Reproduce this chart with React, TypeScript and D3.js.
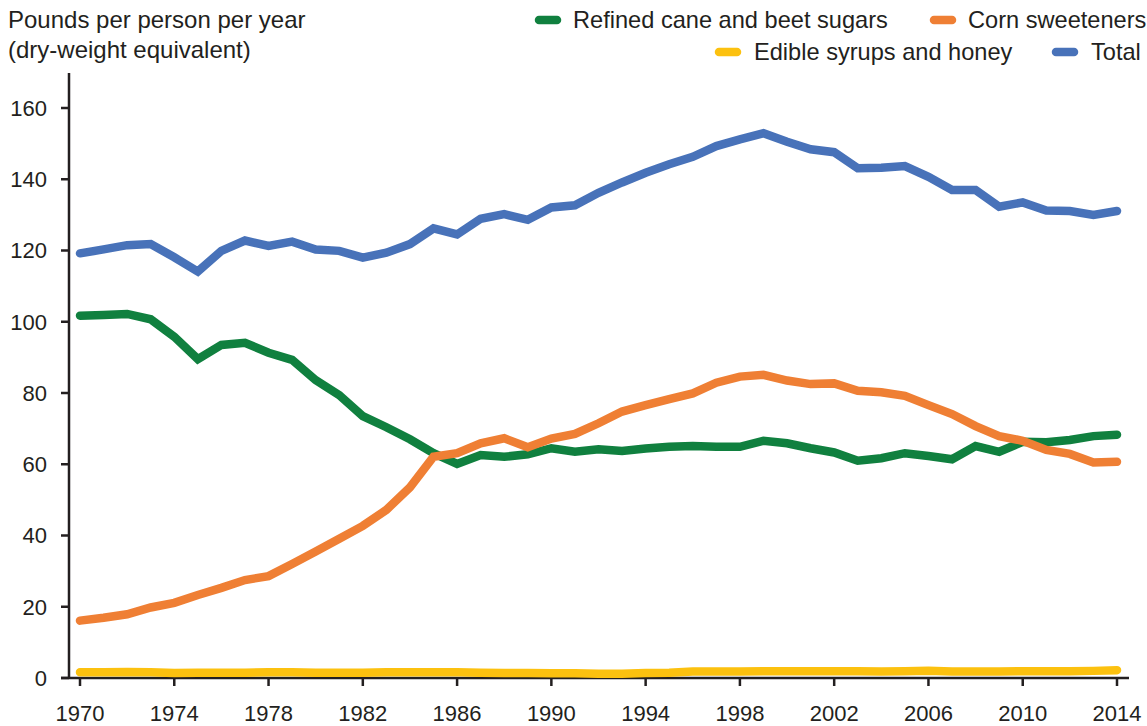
import React from "react";
import * as d3 from "d3";

const years: number[] = d3.range(1970, 2015);

const refinedSugar: number[] = [
  101.7, 101.9, 102.2, 100.7, 95.8, 89.5, 93.5, 94.1, 91.3, 89.3,
  83.6, 79.4, 73.5, 70.4, 67.0, 63.1, 60.1, 62.6, 62.1, 62.8,
  64.5, 63.5, 64.2, 63.7, 64.4, 64.9, 65.1, 64.9, 64.9, 66.6,
  65.9, 64.5, 63.3, 61.0, 61.7, 63.1, 62.3, 61.4, 65.1, 63.5,
  66.3, 66.2, 66.8, 67.9, 68.3,
];

const cornSweeteners: number[] = [
  16.1, 16.9, 17.9, 19.8, 21.1, 23.3, 25.3, 27.5, 28.6, 32.0,
  35.5, 39.1, 42.7, 47.2, 53.5, 62.1, 63.1, 65.9, 67.3, 64.8,
  67.2, 68.5, 71.5, 74.8, 76.6, 78.3, 79.9, 82.9, 84.6, 85.1,
  83.5, 82.5, 82.7, 80.6, 80.2, 79.2, 76.6, 74.1, 70.7, 67.9,
  66.6, 64.0, 62.9, 60.5, 60.7,
];

const syrupsHoney: number[] = [
  1.6, 1.6, 1.7, 1.6, 1.4, 1.5, 1.5, 1.5, 1.6, 1.6,
  1.5, 1.5, 1.5, 1.6, 1.6, 1.6, 1.6, 1.5, 1.4, 1.4,
  1.3, 1.3, 1.2, 1.2, 1.4, 1.5, 1.8, 1.8, 1.8, 1.9,
  1.9, 1.9, 1.9, 1.9, 1.8, 1.9, 2.0, 1.8, 1.8, 1.8,
  1.9, 1.9, 1.9, 2.0, 2.2,
];

const totalSweeteners: number[] = [
  119.2, 120.3, 121.5, 121.8, 118.1, 114.1, 119.9, 122.8, 121.3, 122.5,
  120.3, 119.9, 118.0, 119.4, 121.8, 126.2, 124.5, 128.9, 130.2, 128.6,
  132.1, 132.7, 136.2, 139.1, 141.8, 144.2, 146.3, 149.3, 151.2, 152.9,
  150.5, 148.4, 147.6, 143.1, 143.2, 143.7, 140.7, 137.0, 137.0, 132.3,
  133.5, 131.2, 131.1, 130.0, 131.1,
];

const yTicks: number[] = [0, 20, 40, 60, 80, 100, 120, 140, 160];
const xTicks: number[] = [1970, 1974, 1978, 1982, 1986, 1990, 1994, 1998, 2002, 2006, 2010, 2014];

const seriesNames: string[] = [
  "Refined cane and beet sugars",
  "Corn sweeteners",
  "Edible syrups and honey",
  "Total",
];
const seriesColors: string[] = ["#10803f", "#ef7f34", "#fcc10f", "#4872b9"];
const seriesValues: number[][] = [refinedSugar, cornSweeteners, syrupsHoney, totalSweeteners];

const titleLines: string[] = ["Pounds per person per year", "(dry-weight equivalent)"];

export default function App() {
  const W = 1147;
  const H = 726;
  const x = d3.scaleLinear().domain([1970, 2014]).range([80, 1117]);
  const y = d3.scaleLinear().domain([0, 160]).range([678, 108]);
  const axisX = 69;
  const font = "'Liberation Sans', Arial, Helvetica, sans-serif";
  const ink = "#231f20";

  const line = d3
    .line<number>()
    .x((_, i) => x(years[i]))
    .y((d) => y(d));

  const legend = [
    { sx: 535, tx: 573, by: 28 },
    { sx: 930, tx: 968, by: 28 },
    { sx: 715, tx: 754, by: 60 },
    { sx: 1052, tx: 1091, by: 60 },
  ];

  const drawOrder = [0, 1, 2, 3];

  return (
    <svg
      width={W}
      height={H}
      style={{ position: "absolute", left: 0, top: 0, background: "#fff" }}
      fontFamily={font}
    >
      {titleLines.map((t, i) => (
        <text key={t} x={8} y={28 + i * 30} fontSize={24} fill={ink}>
          {t}
        </text>
      ))}

      {seriesNames.map((name, i) => (
        <g key={name}>
          <line
            x1={legend[i].sx + 4}
            x2={legend[i].sx + 22}
            y1={legend[i].by - 8}
            y2={legend[i].by - 8}
            stroke={seriesColors[i]}
            strokeWidth={8.5}
            strokeLinecap="round"
          />
          <text x={legend[i].tx} y={legend[i].by} fontSize={23.6} fill={ink}>
            {name}
          </text>
        </g>
      ))}

      <line x1={axisX} x2={axisX} y1={73} y2={y(0)} stroke={ink} strokeWidth={2.5} />
      {yTicks.map((t) => (
        <g key={t}>
          <line x1={61} x2={axisX} y1={y(t)} y2={y(t)} stroke={ink} strokeWidth={2.5} />
          <text x={47} y={y(t)} dy="0.36em" fontSize={22} textAnchor="end" fill={ink}>
            {t}
          </text>
        </g>
      ))}

      <line x1={61} x2={1129} y1={y(0)} y2={y(0)} stroke={ink} strokeWidth={2.5} />
      {xTicks.map((t) => (
        <g key={t}>
          <line x1={x(t)} x2={x(t)} y1={y(0)} y2={y(0) + 8} stroke={ink} strokeWidth={2.5} />
          <text x={x(t)} y={721} fontSize={22} textAnchor="middle" fill={ink}>
            {t}
          </text>
        </g>
      ))}

      {drawOrder.map((i) => (
        <path
          key={seriesNames[i]}
          d={line(seriesValues[i]) || ""}
          fill="none"
          stroke={seriesColors[i]}
          strokeWidth={8.5}
          strokeLinecap="round"
          strokeLinejoin="miter"
        />
      ))}
    </svg>
  );
}
